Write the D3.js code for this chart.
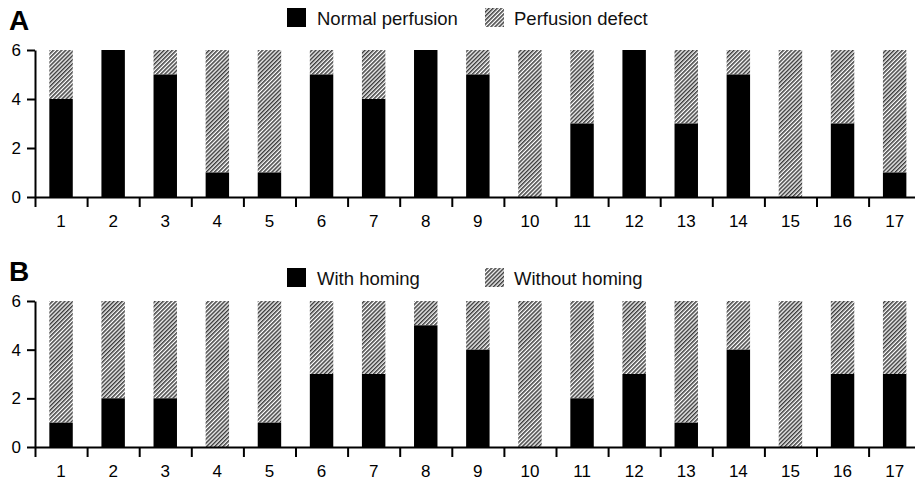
<!DOCTYPE html>
<html lang="en">
<head>
<meta charset="UTF-8">
<title>Perfusion and homing per patient</title>
<script src="https://d3js.org/d3.v7.min.js"></script>
<style>
    body { margin: 0; background: #fff; }
    svg { display: block; font-family: "Liberation Sans", Arial, Helvetica, sans-serif; }
    .axis path, .axis line { stroke: #000; stroke-width: 2; fill: none; }
    .axis text { font-size: 17px; fill: #000; }
    .legend text { font-size: 18.5px; fill: #111; }
    .panel-label { font-size: 28px; font-weight: bold; }
</style>
</head>
<body>
<svg width="915" height="485"></svg>
<script>
// patients 1..17, each with 6 segments
const patients = d3.range(1, 18).map(String);
const yTicks = [0, 2, 4, 6];
const total = 6;

// panel A: normal perfusion (rest = perfusion defect)
const normalPerfusion = [4, 6, 5, 1, 1, 5, 4, 6, 5, 0, 3, 6, 3, 5, 0, 3, 1];
// panel B: with homing (rest = without homing)
const withHoming = [1, 2, 2, 0, 1, 3, 3, 5, 4, 0, 2, 3, 1, 4, 0, 3, 3];

const legendA = ["Normal perfusion", "Perfusion defect"];
const legendB = ["With homing", "Without homing"];

const svg = d3.select("svg");

// hatch pattern
svg.append("defs").append("pattern")
    .attr("id", "hatch")
    .attr("patternUnits", "userSpaceOnUse")
    .attr("width", 2.9)
    .attr("height", 10)
    .attr("patternTransform", "rotate(45)")
  .append("line")
    .attr("x1", 0.8).attr("y1", 0)
    .attr("x2", 0.8).attr("y2", 10)
    .attr("stroke", "#1a1a1a")
    .attr("stroke-width", 1.3);

const x0 = 35, step = 52.1;
const x = d3.scaleBand()
    .domain(patients)
    .range([x0, x0 + step * patients.length])
    .paddingInner(0.55)
    .paddingOuter(0.275);
const xEdges = d3.scaleLinear().domain([0, patients.length]).range([x0, x0 + step * patients.length]);

function drawPanel(cfg) {
    const y = d3.scaleLinear().domain([0, total]).range([cfg.bottom, cfg.top]);
    const g = svg.append("g");

    const rows = patients.map((p, i) => ({ p, solid: cfg.values[i] }));

    // hatched remainder
    g.selectAll(".rest").data(rows).join("rect")
        .attr("x", d => x(d.p))
        .attr("width", x.bandwidth())
        .attr("y", y(total))
        .attr("height", d => y(d.solid) - y(total))
        .attr("fill", "url(#hatch)");

    // solid part
    g.selectAll(".solid").data(rows).join("rect")
        .attr("x", d => x(d.p))
        .attr("width", x.bandwidth())
        .attr("y", d => y(d.solid))
        .attr("height", d => y(0) - y(d.solid))
        .attr("fill", "#000");

    // y axis
    g.append("g").attr("class", "axis")
        .attr("transform", `translate(${x0},0)`)
        .call(d3.axisLeft(y).tickValues(yTicks).tickFormat(d3.format("d"))
            .tickSize(8).tickSizeOuter(0).tickPadding(6));

    // x axis: ticks on band edges
    g.append("g").attr("class", "axis")
        .attr("transform", `translate(0,${cfg.bottom})`)
        .call(d3.axisBottom(xEdges).tickValues(d3.range(0, patients.length + 1))
            .tickFormat("").tickSize(10).tickSizeOuter(0));

    // x labels at band centres
    g.append("g").attr("class", "axis")
        .attr("transform", `translate(0,${cfg.bottom})`)
        .call(d3.axisBottom(x).tickSize(0).tickPadding(18))
        .call(a => a.select(".domain").remove());

    // panel letter
    svg.append("text").attr("class", "panel-label")
        .attr("x", 9).attr("y", cfg.top - 20)
        .text(cfg.letter);

    // legend
    const lg = svg.append("g").attr("class", "legend");
    const items = [
        { label: cfg.legend[0], fill: "#000", x: 287, tx: 317 },
        { label: cfg.legend[1], fill: "url(#hatch)", x: 485, tx: 514 }
    ];
    items.forEach(it => {
        lg.append("rect").attr("x", it.x).attr("y", cfg.legendY)
            .attr("width", 19).attr("height", 19).attr("fill", it.fill);
        lg.append("text").attr("x", it.tx).attr("y", cfg.legendY + 17).text(it.label);
    });
}

drawPanel({ letter: "A", values: normalPerfusion, legend: legendA, top: 50, bottom: 197, legendY: 8 });
drawPanel({ letter: "B", values: withHoming, legend: legendB, top: 301, bottom: 447, legendY: 268 });
</script>
</body>
</html>
